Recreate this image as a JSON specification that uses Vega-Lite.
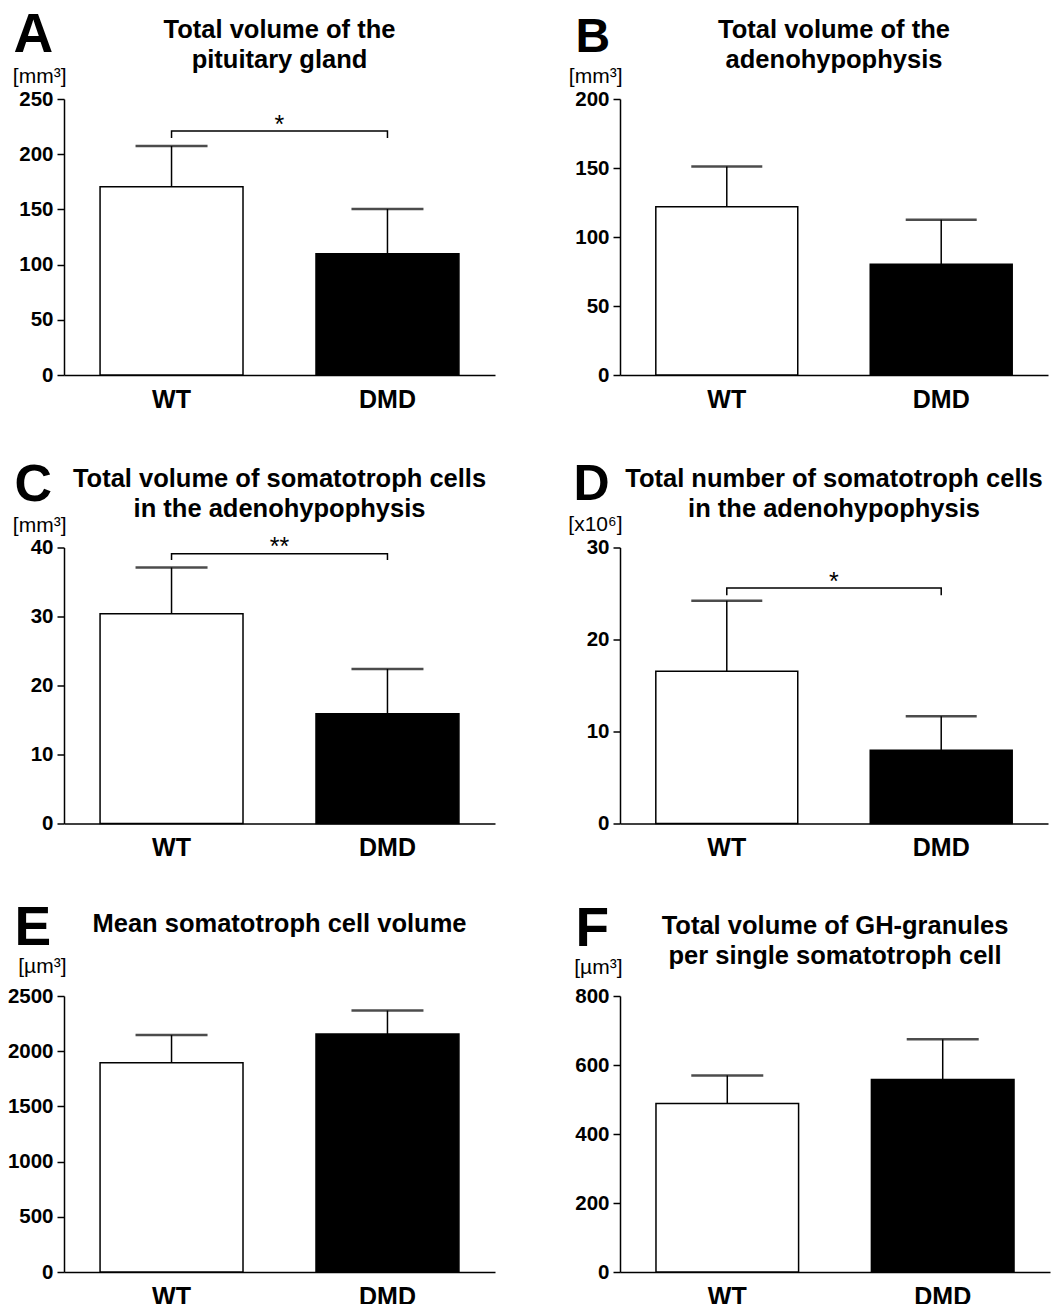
{
  "$schema": "https://vega.github.io/schema/vega-lite/v6.json",
  "padding": {"left": 7, "top": 7, "right": 5, "bottom": 5},
  "background": "white",
  "columns": 2,
  "bounds": "flush",
  "spacing": {"row": 172.5, "column": 125},
  "concat": [
    {
      "width": 431, "height": 276,
      "title": {"text": ["Total volume of the", "pituitary gland"], "offset": -65.3},
      "data": {"values": [{"g": "WT", "mean": 170.6, "err": 207.4}, {"g": "DMD", "mean": 109.9, "err": 150.4}]},
      "layer": [
        {"mark": {"type": "bar", "stroke": "black", "strokeWidth": 1.5},
         "encoding": {
           "x": {"field": "g", "type": "nominal", "sort": ["WT", "DMD"], "scale": {"type": "band", "paddingInner": 0.338, "paddingOuter": 0.167},
                 "axis": {"title": "A", "titleX": -51, "titleY": -323.3, "titleFontSize": 55}},
           "y": {"field": "mean", "type": "quantitative", "scale": {"domain": [0, 250], "nice": false},
                 "axis": {"title": "[mm³]", "titleY": -16.5, "values": [0, 50, 100, 150, 200, 250], "format": "d"}},
           "fill": {"field": "g", "type": "nominal", "scale": {"domain": ["WT", "DMD"], "range": ["white", "black"]}, "legend": null}}},
        {"mark": {"type": "rule", "strokeWidth": 1.5, "color": "black"},
         "encoding": {"x": {"field": "g", "type": "nominal", "sort": ["WT", "DMD"]}, "y": {"field": "mean", "type": "quantitative"}, "y2": {"field": "err"}}},
        {"mark": {"type": "tick", "orient": "horizontal", "size": 72, "thickness": 2.5, "color": "black"},
         "encoding": {"x": {"field": "g", "type": "nominal", "sort": ["WT", "DMD"]}, "y": {"field": "err", "type": "quantitative"}}},
        {"data": {"values": [{"g": "WT", "y": 214.7, "k": 1}, {"g": "WT", "y": 221, "k": 2}, {"g": "DMD", "y": 221, "k": 3}, {"g": "DMD", "y": 214.7, "k": 4}]},
         "mark": {"type": "line", "strokeWidth": 1.5, "color": "black"},
         "encoding": {"x": {"field": "g", "type": "nominal", "sort": ["WT", "DMD"]}, "y": {"field": "y", "type": "quantitative"}, "order": {"field": "k", "type": "quantitative"}}},
        {"data": {"values": [{"g": "WT", "y": 221, "label": "*"}]},
         "mark": {"type": "text", "fontSize": 25, "color": "black", "baseline": "alphabetic", "align": "center", "dy": 2},
         "encoding": {"x": {"field": "g", "type": "nominal", "sort": ["WT", "DMD"], "bandPosition": 1.255}, "y": {"field": "y", "type": "quantitative"}, "text": {"field": "label"}}}
      ]
    },
    {
      "width": 428, "height": 276,
      "title": {"text": ["Total volume of the", "adenohypophysis"], "offset": -60},
      "data": {"values": [{"g": "WT", "mean": 122, "err": 151}, {"g": "DMD", "mean": 80.2, "err": 112.5}]},
      "layer": [
        {"mark": {"type": "bar", "stroke": "black", "strokeWidth": 1.5},
         "encoding": {
           "x": {"field": "g", "type": "nominal", "sort": ["WT", "DMD"], "scale": {"type": "band", "paddingInner": 0.338, "paddingOuter": 0.167},
                 "axis": {"title": "B", "titleX": -45, "titleY": -323.3, "titleFontSize": 48}},
           "y": {"field": "mean", "type": "quantitative", "scale": {"domain": [0, 200], "nice": false},
                 "axis": {"title": "[mm³]", "titleY": -17, "values": [0, 50, 100, 150, 200], "format": "d"}},
           "fill": {"field": "g", "type": "nominal", "scale": {"domain": ["WT", "DMD"], "range": ["white", "black"]}, "legend": null}}},
        {"mark": {"type": "rule", "strokeWidth": 1.5, "color": "black"},
         "encoding": {"x": {"field": "g", "type": "nominal", "sort": ["WT", "DMD"]}, "y": {"field": "mean", "type": "quantitative"}, "y2": {"field": "err"}}},
        {"mark": {"type": "tick", "orient": "horizontal", "size": 71, "thickness": 2.5, "color": "black"},
         "encoding": {"x": {"field": "g", "type": "nominal", "sort": ["WT", "DMD"]}, "y": {"field": "err", "type": "quantitative"}}}
      ]
    },
    {
      "width": 431, "height": 276,
      "title": {"text": ["Total volume of somatotroph cells", "in the adenohypophysis"], "offset": -64},
      "data": {"values": [{"g": "WT", "mean": 30.4, "err": 37.1}, {"g": "DMD", "mean": 15.9, "err": 22.4}]},
      "layer": [
        {"mark": {"type": "bar", "stroke": "black", "strokeWidth": 1.5},
         "encoding": {
           "x": {"field": "g", "type": "nominal", "sort": ["WT", "DMD"], "scale": {"type": "band", "paddingInner": 0.338, "paddingOuter": 0.167},
                 "axis": {"title": "C", "titleX": -50, "titleY": -323, "titleFontSize": 52}},
           "y": {"field": "mean", "type": "quantitative", "scale": {"domain": [0, 40], "nice": false},
                 "axis": {"title": "[mm³]", "titleY": -16, "values": [0, 10, 20, 30, 40], "format": "d"}},
           "fill": {"field": "g", "type": "nominal", "scale": {"domain": ["WT", "DMD"], "range": ["white", "black"]}, "legend": null}}},
        {"mark": {"type": "rule", "strokeWidth": 1.5, "color": "black"},
         "encoding": {"x": {"field": "g", "type": "nominal", "sort": ["WT", "DMD"]}, "y": {"field": "mean", "type": "quantitative"}, "y2": {"field": "err"}}},
        {"mark": {"type": "tick", "orient": "horizontal", "size": 72, "thickness": 2.5, "color": "black"},
         "encoding": {"x": {"field": "g", "type": "nominal", "sort": ["WT", "DMD"]}, "y": {"field": "err", "type": "quantitative"}}},
        {"data": {"values": [{"g": "WT", "y": 38.2, "k": 1}, {"g": "WT", "y": 39.1, "k": 2}, {"g": "DMD", "y": 39.1, "k": 3}, {"g": "DMD", "y": 38.2, "k": 4}]},
         "mark": {"type": "line", "strokeWidth": 1.5, "color": "black"},
         "encoding": {"x": {"field": "g", "type": "nominal", "sort": ["WT", "DMD"]}, "y": {"field": "y", "type": "quantitative"}, "order": {"field": "k", "type": "quantitative"}}},
        {"data": {"values": [{"g": "WT", "y": 39.1, "label": "**"}]},
         "mark": {"type": "text", "fontSize": 25, "color": "black", "baseline": "alphabetic", "align": "center", "dy": 1},
         "encoding": {"x": {"field": "g", "type": "nominal", "sort": ["WT", "DMD"], "bandPosition": 1.255}, "y": {"field": "y", "type": "quantitative"}, "text": {"field": "label"}}}
      ]
    },
    {
      "width": 428, "height": 276,
      "title": {"text": ["Total number of somatotroph cells", "in the adenohypophysis"], "offset": -63.8},
      "data": {"values": [{"g": "WT", "mean": 16.55, "err": 24.2}, {"g": "DMD", "mean": 7.97, "err": 11.67}]},
      "layer": [
        {"mark": {"type": "bar", "stroke": "black", "strokeWidth": 1.5},
         "encoding": {
           "x": {"field": "g", "type": "nominal", "sort": ["WT", "DMD"], "scale": {"type": "band", "paddingInner": 0.338, "paddingOuter": 0.167},
                 "axis": {"title": "D", "titleX": -47, "titleY": -324.5, "titleFontSize": 50}},
           "y": {"field": "mean", "type": "quantitative", "scale": {"domain": [0, 30], "nice": false},
                 "axis": {"title": "[x10⁶]", "titleY": -17.5, "values": [0, 10, 20, 30], "format": "d"}},
           "fill": {"field": "g", "type": "nominal", "scale": {"domain": ["WT", "DMD"], "range": ["white", "black"]}, "legend": null}}},
        {"mark": {"type": "rule", "strokeWidth": 1.5, "color": "black"},
         "encoding": {"x": {"field": "g", "type": "nominal", "sort": ["WT", "DMD"]}, "y": {"field": "mean", "type": "quantitative"}, "y2": {"field": "err"}}},
        {"mark": {"type": "tick", "orient": "horizontal", "size": 71, "thickness": 2.5, "color": "black"},
         "encoding": {"x": {"field": "g", "type": "nominal", "sort": ["WT", "DMD"]}, "y": {"field": "err", "type": "quantitative"}}},
        {"data": {"values": [{"g": "WT", "y": 24.8, "k": 1}, {"g": "WT", "y": 25.6, "k": 2}, {"g": "DMD", "y": 25.6, "k": 3}, {"g": "DMD", "y": 24.8, "k": 4}]},
         "mark": {"type": "line", "strokeWidth": 1.5, "color": "black"},
         "encoding": {"x": {"field": "g", "type": "nominal", "sort": ["WT", "DMD"]}, "y": {"field": "y", "type": "quantitative"}, "order": {"field": "k", "type": "quantitative"}}},
        {"data": {"values": [{"g": "WT", "y": 25.6, "label": "*"}]},
         "mark": {"type": "text", "fontSize": 25, "color": "black", "baseline": "alphabetic", "align": "center", "dy": 2},
         "encoding": {"x": {"field": "g", "type": "nominal", "sort": ["WT", "DMD"], "bandPosition": 1.255}, "y": {"field": "y", "type": "quantitative"}, "text": {"field": "label"}}}
      ]
    },
    {
      "width": 431, "height": 276,
      "title": {"text": "Mean somatotroph cell volume", "offset": -37.3},
      "data": {"values": [{"g": "WT", "mean": 1895, "err": 2146}, {"g": "DMD", "mean": 2155, "err": 2368}]},
      "layer": [
        {"mark": {"type": "bar", "stroke": "black", "strokeWidth": 1.5},
         "encoding": {
           "x": {"field": "g", "type": "nominal", "sort": ["WT", "DMD"], "scale": {"type": "band", "paddingInner": 0.338, "paddingOuter": 0.167},
                 "axis": {"title": "E", "titleX": -50, "titleY": -327.5, "titleFontSize": 55}},
           "y": {"field": "mean", "type": "quantitative", "scale": {"domain": [0, 2500], "nice": false},
                 "axis": {"title": "[µm³]", "titleY": -23.5, "values": [0, 500, 1000, 1500, 2000, 2500], "format": "d"}},
           "fill": {"field": "g", "type": "nominal", "scale": {"domain": ["WT", "DMD"], "range": ["white", "black"]}, "legend": null}}},
        {"mark": {"type": "rule", "strokeWidth": 1.5, "color": "black"},
         "encoding": {"x": {"field": "g", "type": "nominal", "sort": ["WT", "DMD"]}, "y": {"field": "mean", "type": "quantitative"}, "y2": {"field": "err"}}},
        {"mark": {"type": "tick", "orient": "horizontal", "size": 72, "thickness": 2.5, "color": "black"},
         "encoding": {"x": {"field": "g", "type": "nominal", "sort": ["WT", "DMD"]}, "y": {"field": "err", "type": "quantitative"}}}
      ]
    },
    {
      "width": 430, "height": 276,
      "title": {"text": ["Total volume of GH-granules", "per single somatotroph cell"], "offset": -68},
      "data": {"values": [{"g": "WT", "mean": 488.6, "err": 569.8}, {"g": "DMD", "mean": 558.2, "err": 674.3}]},
      "layer": [
        {"mark": {"type": "bar", "stroke": "black", "strokeWidth": 1.5},
         "encoding": {
           "x": {"field": "g", "type": "nominal", "sort": ["WT", "DMD"], "scale": {"type": "band", "paddingInner": 0.338, "paddingOuter": 0.167},
                 "axis": {"title": "F", "titleX": -45, "titleY": -327, "titleFontSize": 55}},
           "y": {"field": "mean", "type": "quantitative", "scale": {"domain": [0, 800], "nice": false},
                 "axis": {"title": "[µm³]", "titleY": -22.5, "values": [0, 200, 400, 600, 800], "format": "d"}},
           "fill": {"field": "g", "type": "nominal", "scale": {"domain": ["WT", "DMD"], "range": ["white", "black"]}, "legend": null}}},
        {"mark": {"type": "rule", "strokeWidth": 1.5, "color": "black"},
         "encoding": {"x": {"field": "g", "type": "nominal", "sort": ["WT", "DMD"]}, "y": {"field": "mean", "type": "quantitative"}, "y2": {"field": "err"}}},
        {"mark": {"type": "tick", "orient": "horizontal", "size": 72, "thickness": 2.5, "color": "black"},
         "encoding": {"x": {"field": "g", "type": "nominal", "sort": ["WT", "DMD"]}, "y": {"field": "err", "type": "quantitative"}}}
      ]
    }
  ],
  "config": {
    "font": "Liberation Sans",
    "view": {"stroke": null},
    "axis": {"grid": false, "domainColor": "black", "domainWidth": 1.5, "tickColor": "black", "tickWidth": 1.5, "labelColor": "black", "titleColor": "black", "labelFont": "Liberation Sans", "titleFont": "Liberation Sans"},
    "axisX": {"ticks": false, "tickSize": 0, "labelPadding": 12, "labelAngle": 0, "labelFontSize": 25, "labelFontWeight": "bold", "titleFontWeight": "bold", "titleAlign": "left", "titleBaseline": "alphabetic"},
    "axisY": {"tickSize": 7, "labelPadding": 4, "labelFontSize": 20.5, "labelFontWeight": "bold", "titleAngle": 0, "titleFontSize": 21, "titleFontWeight": "normal", "titleAlign": "right", "titleBaseline": "alphabetic", "titleX": 2},
    "title": {"fontSize": 25.5, "fontWeight": "bold", "anchor": "middle", "frame": "group", "color": "black", "lineHeight": 30, "font": "Liberation Sans"}
  }
}
